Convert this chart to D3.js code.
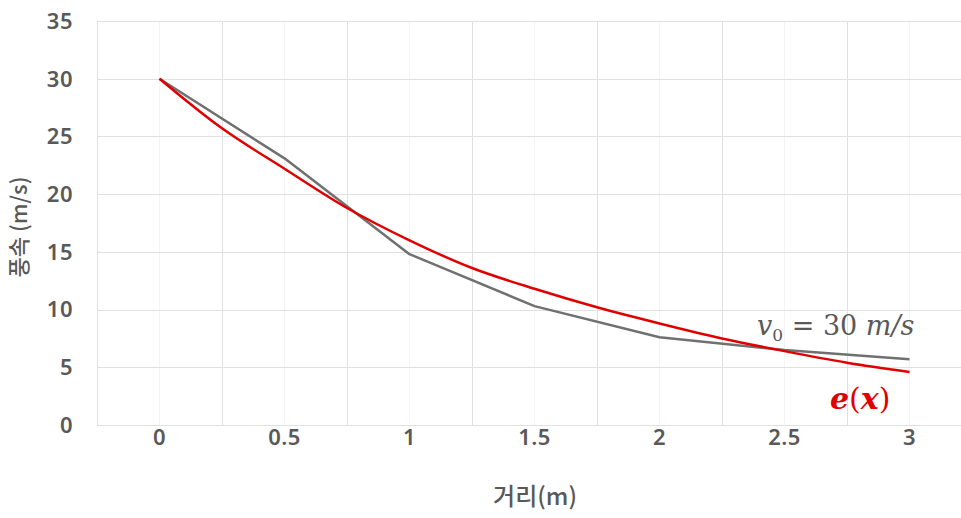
<!DOCTYPE html>
<html>
<head>
<meta charset="utf-8">
<script src="https://cdn.jsdelivr.net/npm/d3@7.9.0/dist/d3.min.js"></script>
<style>
  body { margin: 0; background: #fff; }
  svg text { font-family: "Noto Sans", "Noto Sans CJK KR", sans-serif; fill: #595959; }
</style>
</head>
<body>
<svg id="chart" width="961" height="518"></svg>
<script>
// categories on the x axis
const categories = ["0", "0.5", "1", "1.5", "2", "2.5", "3"];
// measured series (gray)
const measured = [30, 23.1, 14.8, 10.3, 7.6, 6.5, 5.7];
// fitted curve e(x) (red), read at quarter steps
const fitX = [0, 0.25, 0.5, 0.75, 1, 1.25, 1.5, 1.75, 2, 2.25, 2.5, 2.75, 3];
const fitY = [30, 25.7, 22.2, 18.8, 16.0, 13.6, 11.8, 10.2, 8.8, 7.5, 6.4, 5.4, 4.6];
const yTicks = [0, 5, 10, 15, 20, 25, 30, 35];

const svg = d3.select("#chart");
const plotLeft = 97, plotRight = 972, plotTop = 21, plotBottom = 425;

const x = d3.scaleBand().domain(categories).range([plotLeft, plotRight]);
// numeric x for the curve, aligned to band centres
const xNum = d3.scaleLinear().domain([-0.25, 3.25]).range([plotLeft, plotRight]);
const y = d3.scaleLinear().domain([0, 35]).range([plotBottom, plotTop]);

// faint minor gridlines at category centres
svg.append("g").selectAll("line").data(categories).join("line")
  .attr("x1", d => x(d) + x.bandwidth() / 2).attr("x2", d => x(d) + x.bandwidth() / 2)
  .attr("y1", plotTop).attr("y2", plotBottom)
  .attr("stroke", "#f4f4f4").attr("stroke-width", 1);

// major vertical gridlines at band edges
svg.append("g").selectAll("line").data(categories).join("line")
  .attr("x1", d => x(d) + 0.5).attr("x2", d => x(d) + 0.5)
  .attr("y1", plotTop).attr("y2", plotBottom)
  .attr("stroke", "#e0e0e0").attr("stroke-width", 1);

// horizontal gridlines
svg.append("g").selectAll("line").data(yTicks).join("line")
  .attr("x1", plotLeft).attr("x2", 961)
  .attr("y1", d => Math.round(y(d)) + 0.5).attr("y2", d => Math.round(y(d)) + 0.5)
  .attr("stroke", "#e0e0e0").attr("stroke-width", 1);

// y tick labels
svg.append("g").selectAll("text").data(yTicks).join("text")
  .attr("x", 73).attr("y", d => y(d))
  .attr("dy", "0.36em")
  .attr("text-anchor", "end")
  .attr("font-size", 22).attr("font-weight", 600)
  .attr("letter-spacing", 0.5)
  .text(d => d);

// x tick labels
svg.append("g").selectAll("text").data(categories).join("text")
  .attr("x", d => x(d) + x.bandwidth() / 2).attr("y", 445)
  .attr("text-anchor", "middle")
  .attr("font-size", 22).attr("font-weight", 600)
  .attr("letter-spacing", 0.5)
  .text(d => d);

// axis titles
svg.append("text")
  .attr("transform", "translate(27,227) rotate(-90)")
  .attr("text-anchor", "middle")
  .attr("font-size", 22).attr("font-weight", 500)
  .style("font-family", "'Noto Sans CJK KR', sans-serif")
  .text("풍속 (m/s)");

svg.append("text")
  .attr("x", 535).attr("y", 505)
  .attr("text-anchor", "middle")
  .attr("font-size", 24).attr("font-weight", 500)
  .style("font-family", "'Noto Sans CJK KR', sans-serif")
  .text("거리(m)");

// measured line
const line = d3.line()
  .x((d, i) => x(categories[i]) + x.bandwidth() / 2)
  .y(d => y(d));
svg.append("path").datum(measured)
  .attr("d", line)
  .attr("fill", "none").attr("stroke", "#707070").attr("stroke-width", 2.5)
  .attr("stroke-linejoin", "round");

// fitted curve
const curve = d3.line()
  .x((d, i) => xNum(fitX[i]))
  .y(d => y(d))
  .curve(d3.curveMonotoneX);
svg.append("path").datum(fitY)
  .attr("d", curve)
  .attr("fill", "none").attr("stroke", "#e00000").attr("stroke-width", 2.5);

// annotations
const ann1 = svg.append("text")
  .attr("x", 757).attr("y", 335)
  .attr("font-size", 27)
  .style("font-family", "'DejaVu Serif', serif").style("font-style", "italic")
  .style("fill", "#595959");
ann1.append("tspan").text("v");
ann1.append("tspan").attr("font-size", 17).attr("dy", 6).style("font-style", "normal").text("0");
ann1.append("tspan").attr("dy", -6).style("font-style", "normal").text(" = 30 ");
ann1.append("tspan").text("m/s");

const ann2 = svg.append("text")
  .attr("x", 830).attr("y", 409)
  .attr("font-size", 30).attr("font-weight", "bold")
  .style("font-family", "'DejaVu Serif', serif").style("font-style", "italic")
  .style("fill", "#e00000");
ann2.append("tspan").text("e");
ann2.append("tspan").style("font-style", "normal").attr("font-weight", "normal").text("(");
ann2.append("tspan").text("x");
ann2.append("tspan").style("font-style", "normal").attr("font-weight", "normal").text(")");
</script>
</body>
</html>
